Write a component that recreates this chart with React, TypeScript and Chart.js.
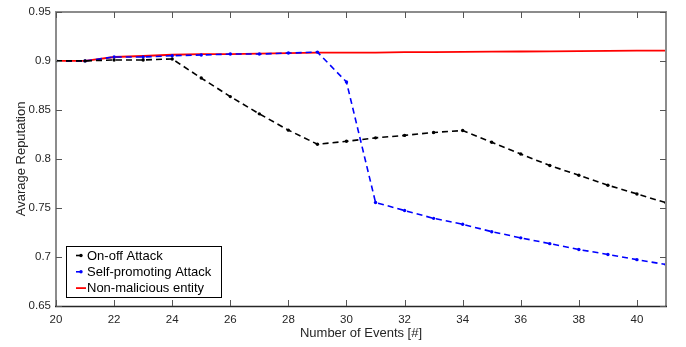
import React, { useEffect, useRef } from "react";
import { Chart, registerables } from "chart.js";

Chart.register(...registerables);

const events = [20, 21, 22, 23, 24, 25, 26, 27, 28, 29, 30, 31, 32, 33, 34, 35, 36, 37, 38, 39, 40, 41];
const onOffAttack = [0.9, 0.9, 0.901, 0.901, 0.902, 0.8825, 0.8636, 0.846, 0.8294, 0.815, 0.818, 0.8215, 0.824, 0.827, 0.829, 0.817, 0.805, 0.7933, 0.7834, 0.7732, 0.7643, 0.7553];
const selfPromoting = [0.9, 0.9, 0.904, 0.904, 0.9053, 0.906, 0.907, 0.907, 0.908, 0.909, 0.8785, 0.7556, 0.7474, 0.7394, 0.7334, 0.7258, 0.7195, 0.7136, 0.7076, 0.7026, 0.6973, 0.6923];
const nonMalicious = [0.9, 0.9, 0.904, 0.905, 0.9063, 0.907, 0.907, 0.9075, 0.908, 0.9085, 0.9085, 0.9085, 0.909, 0.909, 0.9092, 0.9094, 0.9096, 0.9098, 0.91, 0.9102, 0.9104, 0.9106];
const seriesLabels = ["On-off Attack", "Self-promoting Attack", "Non-malicious entity"];
const xTicks = [20, 22, 24, 26, 28, 30, 32, 34, 36, 38, 40];
const yTicks = [0.65, 0.7, 0.75, 0.8, 0.85, 0.9, 0.95];
const xTitle = "Number of Events [#]";
const yTitle = "Avarage Reputation";

const FONT = "'Liberation Sans', Arial, Helvetica, sans-serif";
const AXIS_COLOR = "#262626";

const boxPlugin = {
  id: "boxTicks",
  afterDraw(chart: any) {
    const { ctx, chartArea } = chart;
    const left = Math.round(chartArea.left);
    const right = Math.round(chartArea.right);
    const top = Math.round(chartArea.top);
    const bottom = Math.round(chartArea.bottom);
    const xs = chart.scales.x;
    const ys = chart.scales.y;
    ctx.save();
    ctx.setLineDash([]);
    // soft gray frame (left, top, right)
    ctx.strokeStyle = "#8c8c8c";
    ctx.lineWidth = 2;
    ctx.beginPath();
    ctx.moveTo(left, bottom);
    ctx.lineTo(left, top);
    ctx.lineTo(right, top);
    ctx.lineTo(right, bottom);
    ctx.stroke();
    // bottom axis darker
    ctx.strokeStyle = AXIS_COLOR;
    ctx.lineWidth = 1.3;
    ctx.beginPath();
    ctx.moveTo(left - 1, bottom + 0.5);
    ctx.lineTo(right + 1, bottom + 0.5);
    ctx.stroke();
    const tl = 6;
    ctx.strokeStyle = "#555555";
    ctx.lineWidth = 1;
    ctx.beginPath();
    for (const t of xTicks) {
      const px = Math.round(xs.getPixelForValue(t)) + 0.5;
      ctx.moveTo(px, bottom);
      ctx.lineTo(px, bottom - tl);
      ctx.moveTo(px, top);
      ctx.lineTo(px, top + tl);
    }
    for (const t of yTicks) {
      const py = Math.round(ys.getPixelForValue(t)) + 0.5;
      ctx.moveTo(left, py);
      ctx.lineTo(left + tl, py);
      ctx.moveTo(right, py);
      ctx.lineTo(right - tl, py);
    }
    ctx.stroke();

    // legend inside plot area
    const bx = 66.5, by = 246.5, bw = 155, bh = 51;
    ctx.fillStyle = "#ffffff";
    ctx.fillRect(bx, by, bw, bh);
    ctx.strokeStyle = "#000000";
    ctx.lineWidth = 1;
    ctx.strokeRect(bx, by, bw, bh);
    ctx.font = "13px " + FONT;
    ctx.textBaseline = "middle";
    ctx.textAlign = "left";
    chart.data.datasets.forEach((ds: any, i: number) => {
      const cy = 255.5 + i * 16.3;
      ctx.strokeStyle = ds.borderColor;
      ctx.lineWidth = ds.borderWidth;
      ctx.setLineDash(ds.borderDash || []);
      ctx.beginPath();
      ctx.moveTo(76, cy);
      ctx.lineTo(86, cy);
      ctx.stroke();
      if (ds.pointRadius > 0) {
        ctx.fillStyle = ds.borderColor;
        ctx.beginPath();
        ctx.arc(81, cy, ds.pointRadius, 0, Math.PI * 2);
        ctx.fill();
      }
      ctx.setLineDash([]);
      ctx.fillStyle = "#000000";
      ctx.fillText(ds.label, 87, cy + 0.5);
    });
    ctx.restore();
  },
};

export default function App() {
  const ref = useRef<HTMLCanvasElement | null>(null);
  useEffect(() => {
    document.body.style.margin = "0";
    const canvas = ref.current;
    if (!canvas) return;
    const mk = (vals: number[]) => events.map((x, i) => ({ x, y: vals[i] }));
    const chart = new Chart(canvas, {
      type: "line",
      data: {
        datasets: [
          {
            label: seriesLabels[0],
            data: mk(onOffAttack),
            borderColor: "#000000",
            backgroundColor: "#000000",
            borderWidth: 1.6,
            borderDash: [6, 4],
            pointRadius: 1.7,
            pointBorderWidth: 0,
            pointBackgroundColor: "#000000",
            tension: 0,
          },
          {
            label: seriesLabels[1],
            data: mk(selfPromoting),
            borderColor: "#0000ff",
            backgroundColor: "#0000ff",
            borderWidth: 1.6,
            borderDash: [6, 4],
            pointRadius: 1.7,
            pointBorderWidth: 0,
            pointBackgroundColor: "#0000ff",
            tension: 0,
          },
          {
            label: seriesLabels[2],
            data: mk(nonMalicious),
            borderColor: "#ff0000",
            backgroundColor: "#ff0000",
            borderWidth: 1.8,
            pointRadius: 0,
            tension: 0,
          },
        ],
      },
      options: {
        responsive: false,
        animation: false,
        layout: { padding: { top: 4, right: 20, bottom: 0, left: 0 } },
        plugins: { legend: { display: false }, tooltip: { enabled: false } },
        scales: {
          x: {
            type: "linear",
            min: 20,
            max: 41,
            afterBuildTicks: (s: any) => {
              s.ticks = xTicks.map((v) => ({ value: v }));
            },
            afterFit: (s: any) => {
              s.height = 41;
            },
            grid: { display: false, drawTicks: false },
            border: { display: false },
            ticks: {
              padding: 7,
              color: AXIS_COLOR,
              font: { size: 11.5, family: FONT },
              maxRotation: 0,
              autoSkip: false,
            },
            title: {
              display: true,
              text: xTitle,
              color: AXIS_COLOR,
              font: { size: 13, family: FONT },
              padding: { top: 0, bottom: 6 },
            },
          },
          y: {
            type: "linear",
            min: 0.65,
            max: 0.95,
            afterBuildTicks: (s: any) => {
              s.ticks = yTicks.map((v) => ({ value: v }));
            },
            afterFit: (s: any) => {
              s.width = 56;
            },
            grid: { display: false, drawTicks: false },
            border: { display: false },
            ticks: {
              padding: 5,
              color: AXIS_COLOR,
              font: { size: 11.5, family: FONT },
              autoSkip: false,
              callback: (v: any) => String(Math.round(Number(v) * 100) / 100),
            },
            title: {
              display: true,
              text: yTitle,
              color: AXIS_COLOR,
              font: { size: 13, family: FONT },
              padding: { top: 14, bottom: 0 },
            },
          },
        },
      },
      plugins: [boxPlugin],
    });
    return () => chart.destroy();
  }, []);
  return (
    <div style={{ position: "absolute", left: 0, top: 0, width: 686, height: 347, background: "#fff" }}>
      <canvas ref={ref} width={686} height={347} style={{ display: "block" }} />
    </div>
  );
}
